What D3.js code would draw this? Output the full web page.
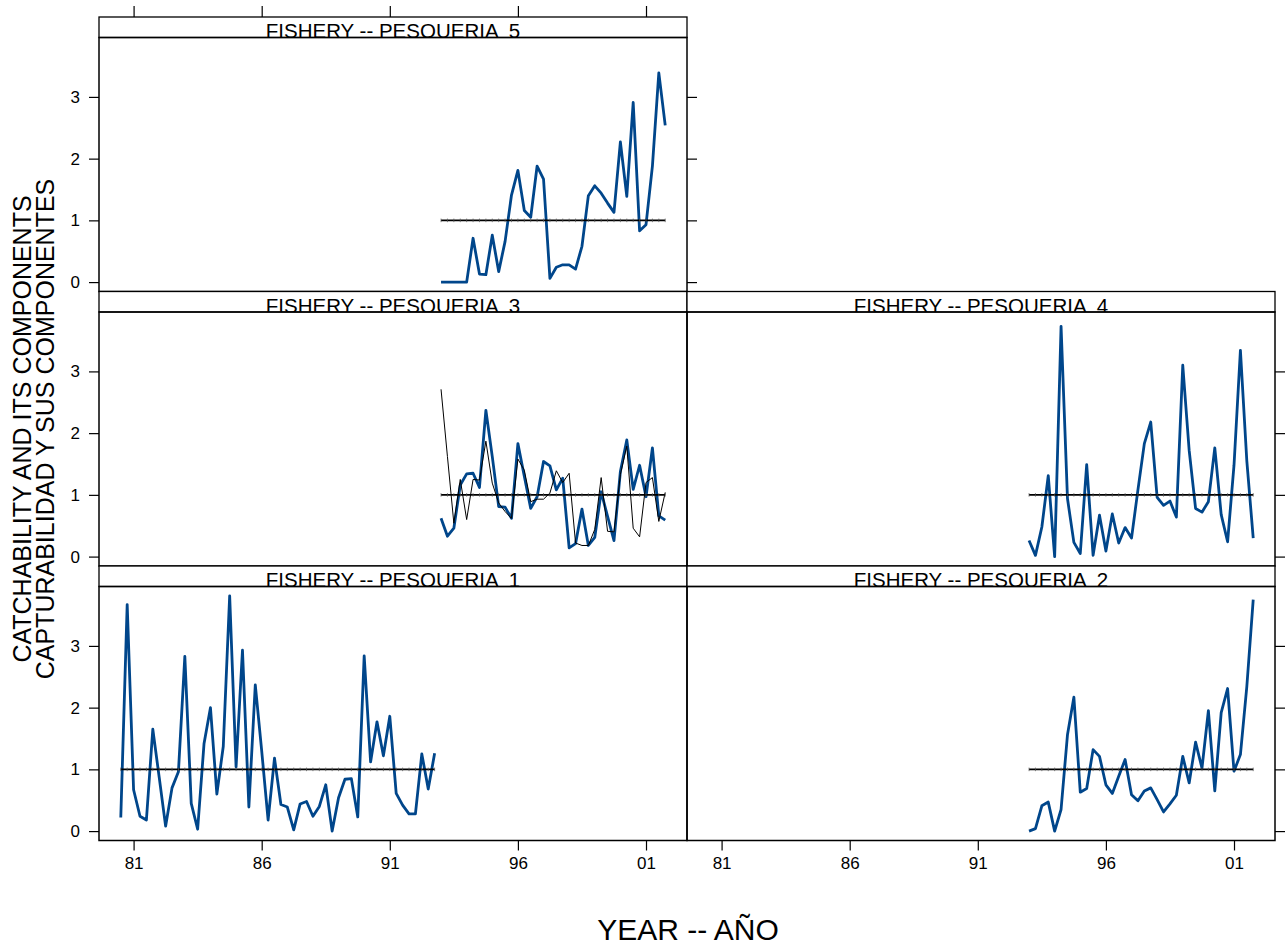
<!DOCTYPE html>
<html><head><meta charset="utf-8">
<script src="https://cdn.jsdelivr.net/npm/d3@7"></script>
<style>
body{margin:0;background:#fff}
svg{display:block}
text{font-family:"Liberation Sans",Arial,Helvetica,sans-serif}
</style>
</head><body>
<svg id="chart" width="1285" height="945"></svg>
<script>
// ---------------- DATA ----------------
const yearsFishery1 = d3.range(1980.5, 1992.76, 0.25);   // quarterly, 50 points
const yearsOther    = d3.range(1993.0, 2001.76, 0.25);   // quarterly, 36 points

const catchability1 = [0.22,3.67,0.67,0.24,0.18,1.65,0.87,0.08,0.70,0.96,
                       2.83,0.45,0.03,1.42,2.00,0.60,1.37,3.81,1.04,2.93,
                       0.39,2.37,1.30,0.18,1.18,0.43,0.39,0.02,0.44,0.48,
                       0.24,0.40,0.75,0.00,0.54,0.84,0.85,0.23,2.84,1.12,
                       1.77,1.22,1.86,0.61,0.42,0.28,0.28,1.25,0.68,1.26];
const catchability2 = [0.00,0.04,0.41,0.47,0.00,0.35,1.56,2.17,0.63,0.69,
                       1.32,1.21,0.75,0.61,0.89,1.16,0.59,0.49,0.65,0.70,
                       0.51,0.31,0.44,0.58,1.21,0.78,1.44,1.02,1.95,0.65,
                       1.92,2.31,0.97,1.24,2.34,3.75];
const catchability3 = [0.62,0.33,0.46,1.16,1.34,1.35,1.12,2.37,1.62,0.81,
                       0.80,0.62,1.83,1.30,0.78,0.97,1.54,1.47,1.08,1.27,
                       0.14,0.21,0.77,0.18,0.31,1.05,0.65,0.26,1.38,1.89,
                       1.09,1.48,0.97,1.76,0.66,0.59];
const component3    = [2.71,1.62,0.54,1.25,0.60,1.25,1.24,1.87,1.19,0.87,
                       0.73,0.62,1.58,1.40,0.89,0.93,0.93,1.03,1.39,1.20,
                       1.35,0.22,0.18,0.18,0.44,1.28,0.41,0.40,1.33,1.79,
                       0.46,0.32,1.20,1.28,0.57,1.04];
const catchability4 = [0.26,0.02,0.48,1.31,0.00,3.73,0.94,0.23,0.05,1.49,
                       0.02,0.67,0.09,0.69,0.22,0.47,0.30,1.08,1.83,2.18,
                       0.96,0.83,0.90,0.64,3.10,1.72,0.78,0.72,0.89,1.76,
                       0.68,0.24,1.48,3.34,1.55,0.30];
const catchability5 = [0.00,0.00,0.00,0.00,0.00,0.71,0.13,0.12,0.76,0.17,
                       0.66,1.41,1.81,1.16,1.05,1.88,1.67,0.06,0.24,0.28,
                       0.28,0.21,0.58,1.40,1.56,1.44,1.28,1.13,2.27,1.39,
                       2.91,0.83,0.93,1.88,3.39,2.54];
const referenceLevel = 1;

const xTickValues = [1981,1986,1991,1996,2001];
const xTickLabels = ["81","86","91","96","01"];
const yTickValues = [0,1,2,3];

const stripLabels = ["FISHERY -- PESQUERIA  1","FISHERY -- PESQUERIA  2","FISHERY -- PESQUERIA  3",
                     "FISHERY -- PESQUERIA  4","FISHERY -- PESQUERIA  5"];
const yTitleLines = ["CATCHABILITY AND ITS COMPONENTS","CAPTURABILIDAD Y SUS COMPONENTES"];
const xTitle = "YEAR -- AÑO";

// ---------------- LAYOUT ----------------
const colX = [99, 687], colW = 588;
const rowY = [17, 291.5, 566], rowH = 274.5, stripH = 20.5;
const bodyH = rowH - stripH;
const blue = "#00468b";

const panels = [
  {label: stripLabels[4], col:0, row:0, years: yearsOther,    q: catchability5},
  {label: stripLabels[2], col:0, row:1, years: yearsOther,    q: catchability3, comp: component3},
  {label: stripLabels[3], col:1, row:1, years: yearsOther,    q: catchability4},
  {label: stripLabels[0], col:0, row:2, years: yearsFishery1, q: catchability1},
  {label: stripLabels[1], col:1, row:2, years: yearsOther,    q: catchability2}
];

const allX = panels.flatMap(p => p.years);
const allY = panels.flatMap(p => p.q.concat(p.comp || []));
const pad = (e) => { const d = (e[1]-e[0])*0.04; return [e[0]-d, e[1]+d]; };

const x = d3.scaleLinear().domain(pad(d3.extent(allX))).range([0, colW]);
const y = d3.scaleLinear().domain(pad([0, d3.max(allY)])).range([bodyH, 0]);

const svg = d3.select("#chart");
const line = d3.line().x(d => x(d[0])).y(d => y(d[1]));

function styleAxis(g){
  g.select(".domain").remove();
  g.selectAll(".tick line").attr("stroke","#000").attr("stroke-width",1.2);
  g.selectAll(".tick text").attr("fill","#000").style("font-size","17px");
}

panels.forEach((p, i) => {
  const gx = colX[p.col], gy = rowY[p.row];
  const g = svg.append("g").attr("transform", `translate(${gx},${gy})`);

  // strip
  const clipId = "clip" + i;
  svg.append("clipPath").attr("id", clipId)
     .append("rect").attr("x", gx).attr("y", gy).attr("width", colW).attr("height", stripH);
  g.append("rect").attr("width", colW).attr("height", stripH)
   .attr("fill","#fff").attr("stroke","#000").attr("stroke-width",1.3);
  svg.append("text").attr("clip-path", `url(#${clipId})`)
     .attr("x", gx + colW/2).attr("y", gy + stripH + 0.5)
     .attr("text-anchor","middle").style("font-size","20.5px").style("white-space","pre")
     .text(p.label);

  // body
  const b = g.append("g").attr("transform", `translate(0,${stripH})`);

  const pts = p.years.map((yr, k) => [yr, p.q[k]]);
  b.append("path").attr("d", line(pts)).attr("fill","none")
   .attr("stroke", blue).attr("stroke-width", 2.8).attr("stroke-linejoin","round");

  if (p.comp) {
    const cp = p.years.map((yr, k) => [yr, p.comp[k]]);
    b.append("path").attr("d", line(cp)).attr("fill","none")
     .attr("stroke","#000").attr("stroke-width",1);
  }

  // reference line with small marks
  const x0 = x(p.years[0]), x1 = x(p.years[p.years.length-1]), yr = y(referenceLevel);
  b.append("line").attr("x1", x0).attr("x2", x1).attr("y1", yr).attr("y2", yr)
   .attr("stroke","#000").attr("stroke-width",1.6);
  b.selectAll(".mk").data(p.years).enter().append("line")
   .attr("x1", d => x(d)).attr("x2", d => x(d)).attr("y1", yr-1.8).attr("y2", yr+1.8)
   .attr("stroke","#555").attr("stroke-width",0.7);

  b.append("rect").attr("width", colW).attr("height", bodyH)
   .attr("fill","none").attr("stroke","#000").attr("stroke-width",1.5);

  // axes
  if (p.col === 0) {
    b.append("g").call(d3.axisLeft(y).tickValues(yTickValues).tickSize(10).tickPadding(9).tickFormat(d3.format("d"))).call(styleAxis);
  }
  if (p.col === 1 || p.row === 0) {
    b.append("g").attr("transform", `translate(${colW},0)`)
     .call(d3.axisRight(y).tickValues(yTickValues).tickSize(10).tickFormat("")).call(styleAxis);
  }
  if (p.row === 2) {
    b.append("g").attr("transform", `translate(0,${bodyH})`)
     .call(d3.axisBottom(x).tickValues(xTickValues).tickSize(10).tickPadding(6)
           .tickFormat((d, j) => xTickLabels[j])).call(styleAxis);
  }
  if (p.row === 0) {
    g.append("g").call(d3.axisTop(x).tickValues(xTickValues).tickSize(11).tickFormat("")).call(styleAxis);
  }
});

// titles
const yt = svg.append("g").attr("transform", "translate(0,429)");
yTitleLines.forEach((t, j) => {
  yt.append("text").attr("transform", `translate(${31 + j*23},0) rotate(-90)`)
    .attr("text-anchor","middle").style("font-size","25px").text(t);
});
svg.append("text").attr("x", 688).attr("y", 940).attr("text-anchor","middle")
   .style("font-size","30px").text(xTitle);
</script>
</body></html>
